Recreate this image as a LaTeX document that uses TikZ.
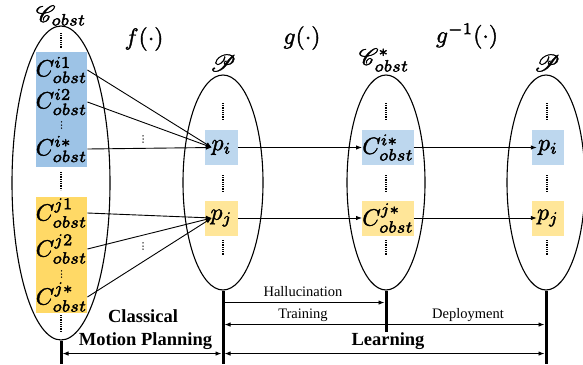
\documentclass[tikz,border=0pt]{standalone}
\usepackage[no-math]{fontspec}
\setmainfont{Liberation Serif}
\usepackage{mathrsfs}
\usetikzlibrary{shapes.geometric,arrows.meta}
\definecolor{bdark}{HTML}{9DC3E6}
\definecolor{ydark}{HTML}{FFD966}
\definecolor{blight}{HTML}{BDD7EE}
\definecolor{ylight}{HTML}{FFE699}
\newcommand{\mth}[1]{\scalebox{2.35}{\special{pdf:literal direct 0.16 w 2 Tr}$#1$\special{pdf:literal direct 0 Tr}}}
\newcommand{\vdts}[2]{\foreach \dd in {-3.2,0,3.2}{\fill (#1,#2+\dd) circle[radius=0.75pt];}}
\tikzset{
  ell/.style={ellipse, draw, line width=1.1pt, inner sep=0pt},
  boxn/.style={inner sep=0pt, minimum height=35pt},
  txt/.style={inner sep=0pt, minimum width=51pt},
  arr/.style={line width=0.9pt, -{Latex[length=6pt,width=4.5pt]}},
  arrb/.style={line width=0.9pt, {Latex[length=6pt,width=4.5pt]}-{Latex[length=6pt,width=4.5pt]}, shorten <=1.5pt, shorten >=1.5pt},
  thickln/.style={line width=3pt},
  dotln/.style={line width=1.2pt, dash pattern=on 0.9pt off 0.9pt},
  lab/.style={font=\fontsize{14.5}{16}\selectfont, inner sep=0pt, anchor=base},
  blab/.style={font=\fontsize{18.5}{22}\selectfont\bfseries, inner sep=0pt, anchor=base},
}
\begin{document}
\begin{tikzpicture}[x=1pt,y=-1pt]
\useasboundingbox (0,0) rectangle (583,364);
% ellipses
\node[ell, minimum width=98pt, minimum height=314pt] (E1) at (61,183) {};
\node[ell, minimum width=80pt, minimum height=215pt] (E2) at (223,182.5) {};
\node[ell, minimum width=78pt, minimum height=215pt] (E3) at (386,182.5) {};
\node[ell, minimum width=78pt, minimum height=215pt] (E4) at (546,182.5) {};
% titles
\node[inner sep=0pt] (lC) at (61,15.5) {\mth{\mathscr{C}_{obst}}};
\node (lf) at (144,39) {\mth{f(\cdot)}};
\node (lg) at (302,38) {\mth{g(\cdot)}};
\node (lgi) at (467,36) {\mth{g^{-1}(\cdot)}};
\node (lP1) at (223,63) {\mth{\mathscr{P}}};
\node[inner sep=0pt] (lCs) at (384,60) {\mth{\mathscr{C}^*_{obst}}};
\node (lP2) at (547,63) {\mth{\mathscr{P}}};
% left boxes
\node[fill=bdark, inner sep=0pt, minimum width=51pt, minimum height=115pt] (bluebox) at (61.5,109.5) {};
\node[fill=ydark, inner sep=0pt, minimum width=51pt, minimum height=116pt] (yellowbox) at (61.5,255) {};
\node[txt] (ci1) at (61.5,70) {\mth{C^{i1}_{obst}}};
\node[txt] (ci2) at (61.5,102) {\mth{C^{i2}_{obst}}};
\vdts{61.5}{125}
\node[txt] (cis0) at (61.5,149) {\mth{C^{i*}_{obst}}};
\node[txt] (cj1) at (61.5,213) {\mth{C^{j1}_{obst}}};
\node[txt] (cj2) at (61.5,249) {\mth{C^{j2}_{obst}}};
\vdts{61.5}{274}
\node[txt] (cjs0) at (61.5,297) {\mth{C^{j*}_{obst}}};
% middle boxes
\node[boxn, fill=blight, minimum width=33pt] (pi1) at (221.5,147.5) {\mth{p_i}};
\node[boxn, fill=ylight, minimum width=33pt] (pj1) at (221.5,218) {\mth{p_j}};
\node[boxn, fill=blight, minimum width=50pt] (cis) at (388,147.5) {\mth{C^{i*}_{obst}}};
\node[boxn, fill=ylight, minimum width=50pt] (cjs) at (388,218) {\mth{C^{j*}_{obst}}};
\node[boxn, fill=blight, minimum width=32pt] (pi2) at (548,147.5) {\mth{p_i}};
\node[boxn, fill=ylight, minimum width=32pt] (pj2) at (548,218) {\mth{p_j}};
% dotted lines
\draw[dotln] (61,33) -- (61,48);
\draw[dotln] (61,172) -- (61,190);
\draw[dotln] (61,315) -- (61,332);
\foreach \xx in {223,386,547}{
  \draw[dotln] (\xx,103) -- (\xx,120);
  \draw[dotln] (\xx,175) -- (\xx,192);
  \draw[dotln] (\xx,240) -- (\xx,256);
}
% fan arrows
\draw[arr] (ci1.east) -- ([xshift=7pt]pi1.west);
\draw[arr] (ci2.east) -- ([xshift=7pt]pi1.west);
\draw[arr] (cis0.east) -- ([xshift=7pt]pi1.west);
\draw[arr] (cj1.east) -- ([xshift=7pt]pj1.west);
\draw[arr] (cj2.east) -- ([xshift=7pt]pj1.west);
\draw[arr] (cjs0.east) -- ([xshift=7pt]pj1.west);
\vdts{143}{139}
\vdts{143}{246}
% mapping arrows
\draw[arr] (pi1.east) -- (cis.west);
\draw[arr] (pj1.east) -- (cjs.west);
\draw[arr] (cis.east) -- ([xshift=5pt]pi2.west);
\draw[arr] (cjs.east) -- ([xshift=5pt]pj2.west);
% bottom lines
\coordinate (b1) at (61,364);
\coordinate (b2) at (223,364);
\coordinate (b3) at (386,332);
\coordinate (b4) at (546,364);
\draw[thickln] (E1.south) -- (b1);
\draw[thickln] (E2.south) -- (b2);
\draw[thickln] (E3.south) -- (b3);
\draw[thickln] (E4.south) -- (b4);
\draw[arr, shorten <=1.5pt, shorten >=1.5pt] ([yshift=-12pt]E2.south) -- ([yshift=-12pt]E3.south);
\draw[arrb] ([yshift=-34pt]E2.south) -- ([yshift=-34pt]E4.south);
\draw[arrb] ([yshift=-63pt]E2.south) -- ([yshift=-63pt]E4.south);
\draw[arrb] ([yshift=-13pt]E1.south) -- ([yshift=-63pt]E2.south);
% labels
\node[lab] (hal) at (303,296) {Hallucination};
\node[lab] (tr) at (303,318) {Training};
\node[lab] (dep) at (468,318) {Deployment};
\node[blab] (lrn) at (388,345) {Learning};
\node[blab] (cl) at (143,322) {Classical};
\node[blab] (mp) at (145.5,345) {Motion Planning};
\end{tikzpicture}
\end{document}
